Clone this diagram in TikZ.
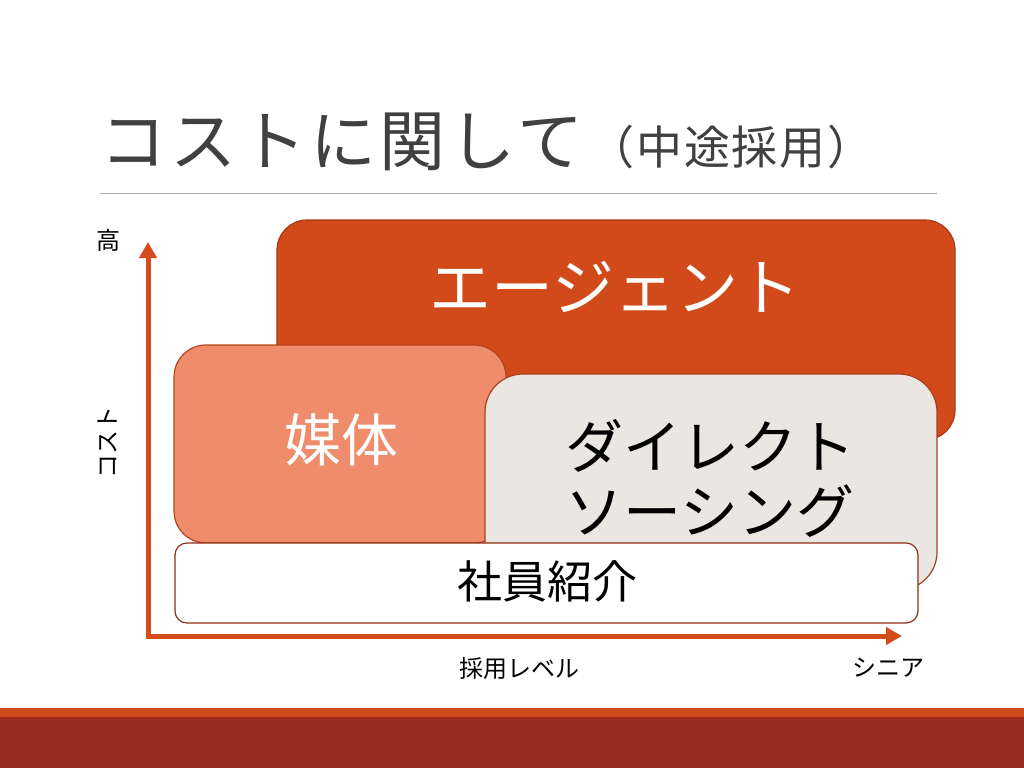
\documentclass[tikz,border=0pt]{standalone}
\usepackage{fontspec}
\setmainfont{Noto Sans CJK JP}
\usetikzlibrary{arrows.meta}
\definecolor{agentc}{HTML}{D24A19}
\definecolor{agentb}{HTML}{A93A12}
\definecolor{mediac}{HTML}{EE8C6B}
\definecolor{mediab}{HTML}{B4441C}
\definecolor{directc}{HTML}{EAE6E1}
\definecolor{directb}{HTML}{A8401C}
\definecolor{refb}{HTML}{8E2E14}
\definecolor{axisc}{HTML}{D44C1C}
\definecolor{titlec}{HTML}{404040}
\definecolor{barorange}{HTML}{D04A1A}
\definecolor{bardark}{HTML}{9A2B1F}
\tikzset{
  box/.style={rounded corners=#1, line width=1.2pt, inner sep=0pt},
  lab/.style={inner sep=0pt, align=center},
  axis/.style={draw=axisc, line width=5pt, -{Triangle[length=16pt,width=17pt]}},
  axlab/.style={inner sep=0pt, font=\fontsize{24}{27}\selectfont, text=black},
}
\begin{document}
\begin{tikzpicture}[x=1pt,y=-1pt]
\useasboundingbox (0,0) rectangle (1024,768);
\fill[white] (0,0) rectangle (1024,768);
% title
\node[lab, anchor=west, text=titlec, font=\fontsize{66}{72}\selectfont\addfontfeatures{LetterSpace=6}] (title) at (100,142) {コストに関して};
\node[lab, anchor=center, text=titlec, font=\fontsize{46}{50}\selectfont\addfontfeatures{LetterSpace=4}] (subtitle) at (731,147) {（中途採用）};
\coordinate (sepL) at (100,193);
\coordinate (sepR) at (937,193);
\draw[gray!70, line width=1pt] (sepL) -- (sepR);
% boxes
\node[box=30pt, draw=agentb, fill=agentc, minimum width=678pt, minimum height=220pt] (agent) at (616,330) {};
\node[lab, text=white, font=\fontsize{62}{68}\selectfont] (agentlab) at (615,287) {エージェント};
\node[box=32pt, draw=mediab, fill=mediac, minimum width=332pt, minimum height=198pt] (media) at (340,444) {};
\node[lab, text=white, font=\fontsize{57}{62}\selectfont] (medialab) at (341,440) {媒体};
\node[box=38pt, draw=directb, fill=directc, minimum width=452pt, minimum height=216pt] (direct) at (711,482) {};
\node[lab, text=black, font=\fontsize{58}{65}\selectfont] (directlab) at (710,478) {ダイレクト\\ソーシング};
\node[box=12pt, draw=refb, fill=white, minimum width=743pt, minimum height=80pt] (ref) at (546.5,583) {};
\node[lab, text=black, font=\fontsize{45}{48}\selectfont] (reflab) at (547,581) {社員紹介};
% axes
\coordinate (origin) at (148,636);
\coordinate (ytop) at (148,242);
\coordinate (xend) at (902,636);
\draw[axis] (148,638.5) -- (ytop);
\draw[axis] (145.5,636) -- (xend);
\node[axlab] (high) at (108,240) {高};
\node[axlab, rotate=90] (cost) at (108,442) {コスト};
\node[axlab] (level) at (519,668) {採用レベル};
\node[axlab] (senior) at (888,668) {シニア};
% bottom bar
\fill[barorange] (0,708) rectangle (1024,717);
\fill[bardark] (0,717) rectangle (1024,768);
\end{tikzpicture}
\end{document}
